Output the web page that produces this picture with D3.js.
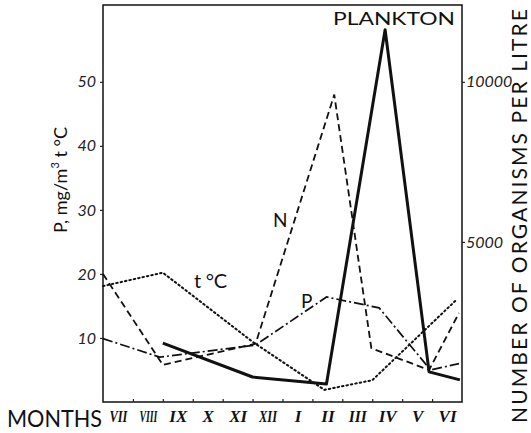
<!DOCTYPE html>
<html>
<head>
<meta charset="utf-8">
<script src="https://cdn.jsdelivr.net/npm/d3@7"></script>
<style>
  html, body { margin: 0; padding: 0; background: #fff; }
  svg { display: block; }
</style>
</head>
<body>
<svg id="chart" width="531" height="433"></svg>
<script>
// ---- data ----
const months = ["VII","VIII","IX","X","XI","XII","I","II","III","IV","V","VI"];
const leftTicks = [10, 20, 30, 40, 50];
const rightTicks = [5000, 10000];

// month position: 0 = start of VII, 12 = end of VI
const tempMonth = [0, 2.0, 5.0, 7.4, 9.0, 11.8];
const tempValue = [18.1, 20.2, 9.4, 1.9, 3.4, 15.9];

const nMonth = [0, 2.0, 5.1, 7.73, 8.97, 10.9, 11.9];
const nValue = [20.0, 5.8, 9.1, 48.0, 8.4, 5.0, 13.9];

const pMonth = [0, 1.9, 5.1, 7.47, 9.23, 10.95, 11.9];
const pValue = [9.9, 7.0, 8.9, 16.4, 14.7, 5.0, 6.0];

const planktonMonth = [2.0, 5.0, 7.47, 9.43, 10.9, 11.93];
const planktonCount = [1840, 780, 560, 11625, 940, 690];

// ---- layout ----
const svg = d3.select("#chart");
const L = 103, R = 462, T = 5, B = 402;

const x = d3.scaleLinear().domain([0, 12]).range([L, R]);
const yL = d3.scaleLinear().domain([0, 62]).range([B, T]);
const yR = d3.scaleLinear().domain([0, 12400]).range([B, T]);

const sans = "Lato, 'Open Sans', sans-serif";

// frame
svg.append("rect")
  .attr("x", L).attr("y", T).attr("width", R - L).attr("height", B - T)
  .attr("fill", "none").attr("stroke", "#111").attr("stroke-width", 1.5);

// left axis
const gL = svg.append("g").attr("transform", `translate(${L},0)`)
  .call(d3.axisLeft(yL).tickValues(leftTicks).tickSize(3).tickPadding(4));
gL.select(".domain").remove();
gL.selectAll("text").attr("font-family", sans).attr("font-style", "italic")
  .attr("font-size", 16).attr("fill", "#222");

// right axis
const gR = svg.append("g").attr("transform", `translate(${R},0)`)
  .call(d3.axisRight(yR).tickValues(rightTicks).tickSize(3).tickPadding(1).tickFormat(d3.format("d")));
gR.select(".domain").remove();
gR.selectAll("text").attr("font-family", sans).attr("font-style", "italic")
  .attr("font-size", 16).attr("fill", "#222");

// bottom ticks (month boundaries, pointing inward)
const gB = svg.append("g").attr("transform", `translate(0,${B})`)
  .call(d3.axisBottom(x).tickValues(d3.range(1, 12)).tickSize(-3).tickFormat(""));
gB.select(".domain").remove();
gB.selectAll("line").attr("stroke", "#222").attr("stroke-width", 1.2);

// month labels (centered in each month)
const gM = svg.append("g").attr("transform", `translate(0,${B})`)
  .call(d3.axisBottom(x).tickValues(d3.range(0.5, 12, 1)).tickSize(0).tickPadding(8)
    .tickFormat((d, i) => months[i]));
gM.select(".domain").remove();
gM.selectAll("text").attr("font-family", "'Liberation Serif', 'DejaVu Serif', serif")
  .attr("font-style", "italic").attr("font-weight", "bold")
  .attr("font-size", 17).attr("fill", "#111").attr("dy", "0.72em")
  .each(function () {
    const w = this.getComputedTextLength();
    if (w > 18) d3.select(this).attr("textLength", 18).attr("lengthAdjust", "spacingAndGlyphs");
  });

[gL, gR].forEach(g => g.selectAll("line").attr("stroke", "#222").attr("stroke-width", 1.2));

// ---- series ----
const line = (xs, ys, yScale) => d3.line()
  .x((d, i) => x(xs[i])).y((d, i) => yScale(ys[i]))(xs);

svg.append("path").attr("d", line(tempMonth, tempValue, yL))
  .attr("fill", "none").attr("stroke", "#111").attr("stroke-width", 2)
  .attr("stroke-dasharray", "1.5,3").attr("stroke-linecap", "round");

svg.append("path").attr("d", line(nMonth, nValue, yL))
  .attr("fill", "none").attr("stroke", "#111").attr("stroke-width", 1.8)
  .attr("stroke-dasharray", "7,4");

svg.append("path").attr("d", line(pMonth, pValue, yL))
  .attr("fill", "none").attr("stroke", "#111").attr("stroke-width", 1.7)
  .attr("stroke-dasharray", "10,3,2,3");

svg.append("path").attr("d", line(planktonMonth, planktonCount, yR))
  .attr("fill", "none").attr("stroke", "#111").attr("stroke-width", 3)
  .attr("stroke-linejoin", "round");

// ---- text labels ----
const txt = (s, tx, ty, size, extra) => {
  const t = svg.append("text").attr("x", tx).attr("y", ty)
    .attr("font-family", sans).attr("font-size", size).attr("fill", "#111").text(s);
  if (extra) extra(t);
  return t;
};

txt("PLANKTON", 333, 25, 18, t => t.attr("textLength", 122).attr("lengthAdjust", "spacingAndGlyphs"));
txt("N", 273, 227, 19);
txt("t °C", 194, 288, 20, t => t.attr("textLength", 33).attr("lengthAdjust", "spacing"));
txt("P", 301, 308, 19);
txt("MONTHS", 7, 427, 23, t => t.attr("textLength", 95).attr("lengthAdjust", "spacingAndGlyphs"));

// left axis title
svg.append("text")
  .attr("transform", "translate(67,180) rotate(-90)")
  .attr("text-anchor", "middle")
  .attr("font-family", sans).attr("font-size", 18).attr("fill", "#111")
  .html("P, mg/m<tspan dy='-8' font-size='11'>3</tspan><tspan dy='8'> t °C</tspan>");

// right axis title
svg.append("text")
  .attr("transform", "translate(527,216) rotate(-90)")
  .attr("text-anchor", "middle")
  .attr("font-family", sans).attr("font-size", 21).attr("fill", "#111")
  .attr("textLength", 414).attr("lengthAdjust", "spacing")
  .text("NUMBER OF ORGANISMS PER LITRE");
</script>
</body>
</html>
